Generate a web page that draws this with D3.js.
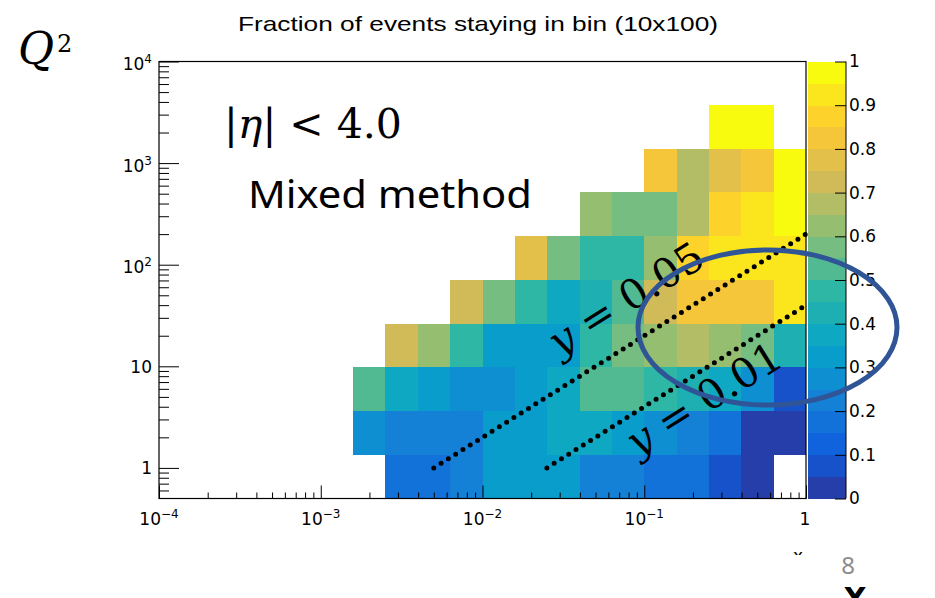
<!DOCTYPE html>
<html><head><meta charset="utf-8">
<script src="https://cdn.jsdelivr.net/npm/d3@7"></script>
<style>body{margin:0;background:#fff;} svg{display:block;background:#fff;}</style>
</head><body><svg id="c" width="935" height="598"></svg>
<script>
// ---------------- data ----------------
const chartTitle = "Fraction of events staying in bin (10x100)";
// x bin edges (log10 of x), 20 bins from 1e-4 to 1
const xEdgeExp = [-4,-3.8,-3.6,-3.4,-3.2,-3,-2.8,-2.6,-2.4,-2.2,-2,-1.8,-1.6,-1.4,-1.2,-1,-0.8,-0.6,-0.4,-0.2,0];
// Q2 bin edges, 10 bins from 0.5 to 1e4
const q2Edges = [0.5,1.347,3.629,9.779,26.35,71.01,191.3,515.4,1389,3743,10000];
// fraction per cell, one array per Q2 bin (bottom to top), 20 x bins each
const q2Bin0 = [null,null,null,null,null,null,null,0.175,0.175,0.225,0.325,0.325,0.325,0.225,0.225,0.175,0.175,0.075,0.025,null];
const q2Bin1 = [null,null,null,null,null,null,0.275,0.225,0.225,0.225,0.325,0.325,0.375,0.375,0.325,0.275,0.225,0.175,0.025,0.025];
const q2Bin2 = [null,null,null,null,null,null,0.525,0.375,0.325,0.275,0.275,0.325,0.375,0.525,0.525,0.475,0.425,0.375,0.275,0.075];
const q2Bin3 = [null,null,null,null,null,null,null,0.725,0.625,0.475,0.325,0.325,0.325,0.475,0.575,0.625,0.675,0.625,0.575,0.425];
const q2Bin4 = [null,null,null,null,null,null,null,null,null,0.725,0.575,0.475,0.375,0.425,0.525,0.725,0.825,0.825,0.825,0.925];
const q2Bin5 = [null,null,null,null,null,null,null,null,null,null,null,0.775,0.575,0.475,0.475,0.625,0.875,0.925,0.925,0.925];
const q2Bin6 = [null,null,null,null,null,null,null,null,null,null,null,null,null,0.625,0.575,0.575,0.675,0.875,0.925,0.975];
const q2Bin7 = [null,null,null,null,null,null,null,null,null,null,null,null,null,null,null,0.825,0.675,0.775,0.825,0.975];
const q2Bin8 = [null,null,null,null,null,null,null,null,null,null,null,null,null,null,null,null,null,0.975,0.975,null];
const q2Bin9 = [null,null,null,null,null,null,null,null,null,null,null,null,null,null,null,null,null,null,null,null];
const xTickExp = [-4,-3,-2,-1,0];
const yTickExp = [0,1,2,3,4];
const zTicks = [0,0.1,0.2,0.3,0.4,0.5,0.6,0.7,0.8,0.9,1];
const zTickLabels = ["0","0.1","0.2","0.3","0.4","0.5","0.6","0.7","0.8","0.9","1"];
const nContours = 20;
const sBeam = 4000;           // Q2 = s x y
const inelasticity = [0.05, 0.01];
const inelLabels = ["0.05", "0.01"];
// ROOT kBird palette
const birdStops = [0.0,0.125,0.25,0.375,0.5,0.625,0.75,0.875,1.0];
const birdR = [0.2082,0.0592,0.0780,0.0232,0.1802,0.5301,0.8186,0.9956,0.9764];
const birdG = [0.1664,0.3599,0.5041,0.6419,0.7178,0.7492,0.7328,0.7862,0.9832];
const birdB = [0.5293,0.8684,0.8385,0.7914,0.6425,0.4662,0.3499,0.1968,0.0539];

const grid = [q2Bin0,q2Bin1,q2Bin2,q2Bin3,q2Bin4,q2Bin5,q2Bin6,q2Bin7,q2Bin8,q2Bin9];

// ---------------- setup ----------------
const svg = d3.select("#c");
const L = 159, R = 806, T = 61.5, B = 498.5;
const x = d3.scaleLog().domain([1e-4, 1]).range([L, R]);
const y = d3.scaleLog().domain([0.5, 1e4]).range([B, T]);
const z = d3.scaleLinear().domain([0, 1]).range([B, T]);
const bird = d3.scaleLinear().domain(birdStops)
  .range(birdStops.map((s,i)=>d3.rgb(birdR[i]*255, birdG[i]*255, birdB[i]*255).toString()))
  .interpolate(d3.interpolateRgb);
function bandColor(k){ return bird((k+0.99)/nContours); }
function valColor(v){ return bandColor(Math.min(nContours-1, Math.floor(v*nContours))); }

// ---------------- cells ----------------
const cells = [];
grid.forEach((row,j)=>row.forEach((v,i)=>{ if(v!==null) cells.push({i,j,v}); }));
svg.append("g").selectAll("rect").data(cells).join("rect")
  .attr("x", d=>x(Math.pow(10,xEdgeExp[d.i])))
  .attr("width", d=>x(Math.pow(10,xEdgeExp[d.i+1]))-x(Math.pow(10,xEdgeExp[d.i])))
  .attr("y", d=>y(q2Edges[d.j+1]))
  .attr("height", d=>y(q2Edges[d.j])-y(q2Edges[d.j+1]))
  .attr("fill", d=>valColor(d.v))
  .attr("shape-rendering","crispEdges");

// ---------------- axes ----------------
const xMajor = xTickExp.map(e=>Math.pow(10,e));
const xMinor = [];
for(let e=-4;e<0;e++) for(let m=2;m<=9;m++) xMinor.push(m*Math.pow(10,e));
const yMajor = yTickExp.map(e=>Math.pow(10,e));
const yMinor = [0.6,0.7,0.8,0.9];
for(let e=0;e<4;e++) for(let m=2;m<=9;m++) yMinor.push(m*Math.pow(10,e));

function styleAxis(g){ g.select(".domain").remove(); g.selectAll("line").attr("stroke","#000").attr("stroke-width",1); }
svg.append("g").attr("transform",`translate(0,${B})`)
  .call(d3.axisBottom(x).tickValues(xMinor).tickSize(-6).tickFormat("")).call(styleAxis);
svg.append("g").attr("transform",`translate(0,${B})`)
  .call(d3.axisBottom(x).tickValues(xMajor).tickSize(-13).tickFormat("")).call(styleAxis);
svg.append("g").attr("transform",`translate(${L},0)`)
  .call(d3.axisLeft(y).tickValues(yMinor).tickSize(-10).tickFormat("")).call(styleAxis);
svg.append("g").attr("transform",`translate(${L},0)`)
  .call(d3.axisLeft(y).tickValues(yMajor).tickSize(-20).tickFormat("")).call(styleAxis);

// frame
svg.append("rect").attr("x",L).attr("y",T).attr("width",R-L).attr("height",B-T)
  .attr("fill","none").attr("stroke","#000").attr("stroke-width",1.2);

const tickFont = "DejaVu Sans, Liberation Sans, sans-serif";
function powLabel(sel, e){
  if(e===0){ sel.append("tspan").text("1"); }
  else if(e===1){ sel.append("tspan").text("10"); }
  else { sel.append("tspan").text("10"); sel.append("tspan").attr("dy",-7).attr("font-size",12).text(e<0?"\u2212"+(-e):String(e)); }
}
xTickExp.forEach(e=>{
  const t = svg.append("text").attr("x", x(Math.pow(10,e)) + (e===0?-1:0)).attr("y",525)
    .attr("text-anchor","middle").attr("font-family",tickFont).attr("font-size",17).attr("fill","#000");
  powLabel(t,e);
});
yTickExp.forEach(e=>{
  const t = svg.append("text").attr("x",152).attr("y", y(Math.pow(10,e)) + (e>=2?8.5:6.5))
    .attr("text-anchor","end").attr("font-family",tickFont).attr("font-size",17).attr("fill","#000");
  powLabel(t,e);
});

// ---------------- colour bar ----------------
const CB0 = 808, CB1 = 846;
const bands = d3.range(nContours);
svg.append("g").selectAll("rect").data(bands).join("rect")
  .attr("x",CB0).attr("width",CB1-CB0)
  .attr("y",k=>z((k+1)/nContours)).attr("height",k=>z(k/nContours)-z((k+1)/nContours)+0.3)
  .attr("fill",k=>bandColor(k)).attr("shape-rendering","crispEdges");
const zAx = svg.append("g").attr("transform",`translate(${CB1},0)`)
  .call(d3.axisRight(z).tickValues(zTicks).tickSize(-11).tickPadding(3).tickFormat((d,i)=>zTickLabels[i]));
zAx.select(".domain").attr("stroke","#000").attr("d",`M0,${T}V${B}`);
zAx.selectAll("line").attr("stroke","#000");
zAx.selectAll("text").attr("font-family",tickFont).attr("font-size",17).attr("fill","#000");

// ---------------- title ----------------
svg.append("text").attr("x",238).attr("y",31).attr("font-family","Liberation Sans, Arial, sans-serif")
  .attr("font-size",21).attr("textLength",480).attr("lengthAdjust","spacingAndGlyphs").attr("fill","#000")
  .text(chartTitle);

// ---------------- y = const lines ----------------
const line = d3.line().x(d=>x(d[0])).y(d=>y(d[1]));
inelasticity.forEach(yv=>{
  const x0 = 1/(sBeam*yv);
  svg.append("path").attr("d", line([[x0,1],[1,sBeam*yv]]))
    .attr("fill","none").attr("stroke","#000").attr("stroke-width",5)
    .attr("stroke-linecap","round").attr("stroke-dasharray","0 8.6");
});

// rotated labels
const serif = "DejaVu Serif, Liberation Serif, serif";
const ang = -Math.atan((y(1)-y(10))/(x(0.1)-x(0.01)))*180/Math.PI;
const labPos = [[626,299],[704,399]];
inelLabels.forEach((lab,i)=>{
  const t = svg.append("text").attr("transform",`translate(${labPos[i][0]},${labPos[i][1]}) rotate(${ang})`)
    .attr("text-anchor","middle").attr("dominant-baseline","central")
    .attr("font-family",serif).attr("font-size",41).attr("fill","#000");
  t.append("tspan").attr("font-style","italic").text("y");
  t.append("tspan").text(" = "+lab);
});

// ellipse
svg.append("ellipse").attr("cx",767.5).attr("cy",327.5).attr("rx",129.5).attr("ry",77.5)
  .attr("fill","none").attr("stroke","#2f5597").attr("stroke-width",5);

// ---------------- other texts ----------------
const eta = svg.append("text").attr("x",224).attr("y",138).attr("font-family",serif).attr("font-size",41)
  .attr("fill","#000");
eta.append("tspan").text("|");
eta.append("tspan").attr("font-style","italic").text("\u03B7");
eta.append("tspan").text("| < 4.0");

svg.append("text").attr("x",248).attr("y",208).attr("font-family","Noto Sans, Open Sans, sans-serif")
  .attr("font-size",38).attr("fill","#000").attr("textLength",284).attr("lengthAdjust","spacingAndGlyphs")
  .text("Mixed method");

const q = svg.append("text").attr("x",18).attr("y",64).attr("font-family",serif).attr("fill","#000");
q.append("tspan").attr("font-style","italic").attr("font-size",44).text("Q");
q.append("tspan").attr("x",57).attr("y",52).attr("font-size",24).text("2");

// clipped x-axis title & slide footer
svg.append("defs").append("clipPath").attr("id","clipx").append("rect").attr("x",780).attr("y",540).attr("width",40).attr("height",15);
svg.append("text").attr("x",798).attr("y",562).attr("text-anchor","middle").attr("clip-path","url(#clipx)")
  .attr("font-family",tickFont).attr("font-size",17).attr("fill","#000").text("x");
svg.append("text").attr("x",848).attr("y",574).attr("text-anchor","middle").attr("font-family","Noto Sans, sans-serif")
  .attr("font-size",24).attr("fill","#8c8c8c").text("8");
svg.append("text").attr("x",855).attr("y",609).attr("text-anchor","middle").attr("font-family","DejaVu Sans, sans-serif")
  .attr("font-weight","bold").attr("font-size",30).attr("fill","#000").text("X");
</script></body></html>
